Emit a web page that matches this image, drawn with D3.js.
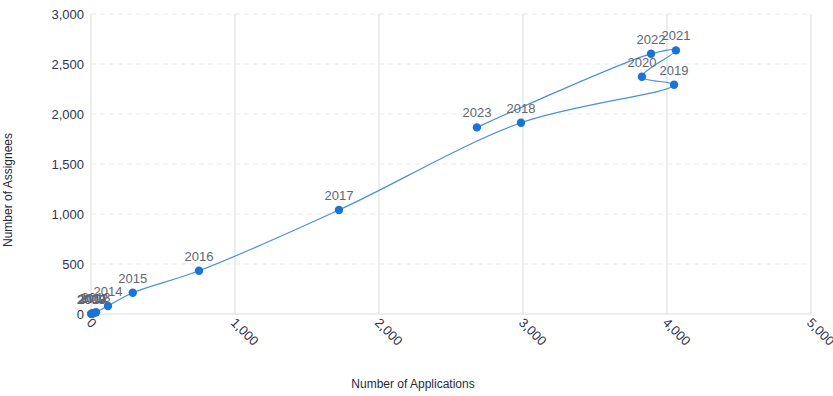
<!DOCTYPE html>
<html><head><meta charset="utf-8">
<script src="https://cdn.jsdelivr.net/npm/d3@7"></script>
<style>body{margin:0;background:#fff;font-family:"Liberation Sans",Arial,sans-serif}</style>
</head><body><svg id="c" width="833" height="396"></svg>
<script>
const years = ["2008","2009","2010","2011","2012","2013","2014","2015","2016","2017","2018","2019","2020","2021","2022","2023"];
const applications = [1,3,6,12,20,35,118,290,750,1722,2986,4049,3826,4062,3889,2680];
const assignees = [1,2,4,6,10,18,80,212,432,1040,1912,2292,2372,2636,2602,1866];
const xTicks = [0,1000,2000,3000,4000,5000];
const yTicks = [0,500,1000,1500,2000,2500,3000];

const svg = d3.select("#c");
const L=91,R=811,T=14,B=314;
const x = d3.scaleLinear().domain([0,5000]).range([L,R]);
const y = d3.scaleLinear().domain([0,3000]).range([B,T]);
const fmt = d3.format(",");

// horizontal dashed grid
svg.append("g").selectAll("line").data(yTicks.filter(d=>d>0)).join("line")
  .attr("x1",L).attr("x2",R).attr("y1",d=>y(d)).attr("y2",d=>y(d))
  .attr("stroke","#e8e8e8").attr("stroke-dasharray","5,4");
// vertical solid grid
svg.append("g").selectAll("line").data(xTicks).join("line")
  .attr("x1",d=>x(d)).attr("x2",d=>x(d)).attr("y1",T).attr("y2",B)
  .attr("stroke","#dcdcdc");
// bottom axis line
svg.append("line").attr("x1",L).attr("x2",R).attr("y1",B).attr("y2",B).attr("stroke","#dcdcdc");

// y tick labels
const yAxis = d3.axisLeft(y).tickValues(yTicks).tickFormat(fmt).tickSize(0).tickPadding(7);
const gy = svg.append("g").attr("transform",`translate(${L},0)`).call(yAxis);
gy.select(".domain").remove();
gy.selectAll("text").attr("fill","#2b3550").style("font-size","13px").style("font-family","'Liberation Sans',Arial,sans-serif");

// x tick labels rotated
const xAxis = d3.axisBottom(x).tickValues(xTicks).tickFormat(fmt).tickSize(0).tickPadding(0);
const gx = svg.append("g").attr("transform",`translate(0,${B})`).call(xAxis);
gx.select(".domain").remove();
gx.selectAll("text").attr("fill","#2b3550").style("font-size","13px").style("font-family","'Liberation Sans',Arial,sans-serif")
  .attr("text-anchor","start").attr("dy",null).attr("y",0)
  .attr("transform","translate(-3,7) rotate(45)").attr("dominant-baseline","middle");

// line
const pts = years.map((yr,i)=>({yr, a:applications[i], s:assignees[i]}));
const line = d3.line().x(d=>x(d.a)).y(d=>y(d.s)).curve(d3.curveCatmullRom.alpha(0.5));
svg.append("path").datum(pts).attr("d",line).attr("fill","none").attr("stroke","#4a8fdc").attr("stroke-width",1.2);

// points
svg.append("g").selectAll("circle").data(pts).join("circle")
  .attr("cx",d=>x(d.a)).attr("cy",d=>y(d.s)).attr("r",4.2).attr("fill","#1a73d6");

// labels
svg.append("g").selectAll("text").data(pts).join("text")
  .attr("x",d=>x(d.a)).attr("y",d=>y(d.s)-10).attr("text-anchor","middle")
  .attr("fill","#5e6675").style("font-size","13px").text(d=>d.yr);

// axis titles
svg.append("text").attr("x",413).attr("y",388).attr("text-anchor","middle")
  .attr("fill","#1f2a3d").style("font-size","12px").text("Number of Applications");
svg.append("text").attr("transform","translate(12,190) rotate(-90)").attr("text-anchor","middle")
  .attr("fill","#1f2a3d").style("font-size","12px").text("Number of Assignees");
</script></body></html>
